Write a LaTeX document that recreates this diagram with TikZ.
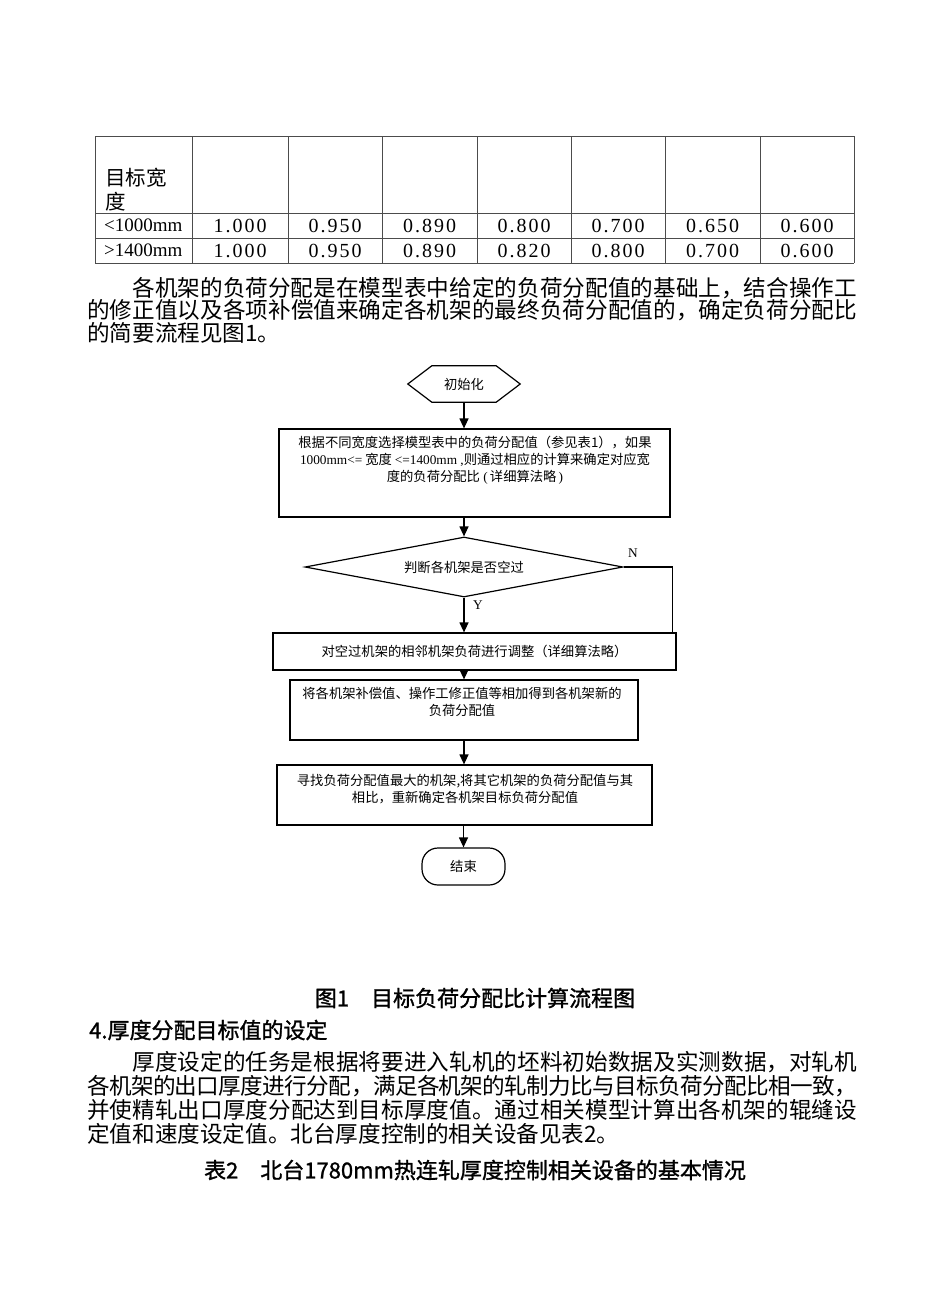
\documentclass[tikz,border=0pt]{standalone}
\usepackage{fontspec}
\setmainfont{Noto Sans CJK SC}
\newfontfamily\tms{Liberation Serif}
\newfontfamily\tnum[LetterSpace=10]{Liberation Serif}
\newfontfamily\hei[FakeBold=1.2]{Noto Sans CJK SC}
\usepackage{tikz}
\usetikzlibrary{calc,positioning,shapes.geometric,arrows.meta}
\XeTeXlinebreaklocale "zh"
\XeTeXlinebreakskip=0pt plus 3pt minus 1.5pt
\newcommand\jline[1]{\parbox{770pt}{\parindent=0pt\parfillskip=0pt #1\par}}

\begin{document}
\begin{tikzpicture}[x=1pt, y=-1pt,
    tline/.style={draw=black!70, line width=1pt},
    body/.style={anchor=west, inner sep=0pt, font=\fontsize{22.6pt}{23pt}\selectfont},
    cell/.style={inner sep=0pt, font=\tnum\fontsize{20pt}{22pt}\selectfont},
    box/.style={draw, line width=1.2pt, inner sep=0pt},
    ftxt/.style={inner sep=0pt, align=center, font=\fontsize{13.3pt}{17pt}\selectfont},
    lbl/.style={inner sep=0pt, font=\tms\fontsize{13.3pt}{15pt}\selectfont},
    arr/.style={line width=1.2pt, ->, >={Triangle[length=10pt,width=9pt]}},
    captxt/.style={inner sep=0pt, font=\hei\fontsize{22pt}{24pt}\selectfont}]

    \useasboundingbox (0,0) rectangle (950,1290);

    % table 1 (tail)
    \foreach \x in {95,192,288,382,477,571,665,760,854}
        \draw[tline] (\x,136) -- (\x,263);
    \foreach \y in {136,213,238,263}
        \draw[tline] (95,\y) -- (854,\y);

    \node[anchor=west, inner sep=0pt, font=\fontsize{20.5pt}{22pt}\selectfont] (hd1) at (105,178) {目标宽};
    \node[anchor=west, inner sep=0pt, font=\fontsize{20.5pt}{22pt}\selectfont] (hd2) at (105,202) {度};
    \node[anchor=west, inner sep=0pt, font=\tms\fontsize{19pt}{22pt}\selectfont] (r1) at (104,225.5) {<1000mm};
    \node[anchor=west, inner sep=0pt, font=\tms\fontsize{19pt}{22pt}\selectfont] (r2) at (104,250.5) {>1400mm};

    \foreach \c/\v in {240/1.000, 335/0.950, 429.5/0.890, 524/0.800, 618/0.700, 712.5/0.650, 807/0.600}
        \node[cell] at (\c,225.5) {\v};
    \foreach \c/\v in {240/1.000, 335/0.950, 429.5/0.890, 524/0.820, 618/0.800, 712.5/0.700, 807/0.600}
        \node[cell] at (\c,250.5) {\v};

    % paragraph
    \node[body] (p1a) at (87,288) {\jline{\hspace*{2em}各机架的负荷分配是在模型表中给定的负荷分配值的基础上，结合操作工}};
    \node[body] (p1b) at (87,310.5) {\jline{的修正值以及各项补偿值来确定各机架的最终负荷分配值的，确定负荷分配比}};
    \node[body] (p1c) at (87,333) {的简要流程见图1。};

    % flow chart
    \node[ftxt, minimum width=112pt, minimum height=36pt] (init) at (464,384) {初始化};
    \draw[line width=1.2pt] (init.west) -- ($(init.north west)+(24,0)$) -- ($(init.north east)+(-24,0)$)
        -- (init.east) -- ($(init.south east)+(-24,0)$) -- ($(init.south west)+(24,0)$) -- cycle;

    \node[box, minimum width=391pt, minimum height=88pt] (b1) at (474.5,473) {};
    \node[ftxt] (t1) at (475,460) {根据不同宽度选择模型表中的负荷分配值（参见表1），如果\\
        {\tms 1000mm<=} 宽度 {\tms <=1400mm ,}则通过相应的计算来确定对应宽\\
        度的负荷分配比{\tms\ (\,}详细算法略{\tms\,)}};

    \node[box, diamond, aspect=5.3, minimum width=318pt, minimum height=60pt, ftxt] (chk) at (464,567) {判断各机架是否空过};

    \node[box, minimum width=403pt, minimum height=37pt, ftxt] (b2) at (474.5,651.5) {对空过机架的相邻机架负荷进行调整（详细算法略）};

    \node[box, minimum width=348pt, minimum height=60pt] (b3) at (464,710) {};
    \node[ftxt] (t3) at (462,702) {将各机架补偿值、操作工修正值等相加得到各机架新的\\负荷分配值};

    \node[box, minimum width=375pt, minimum height=60pt] (b4) at (464.5,795) {};
    \node[ftxt] (t4) at (465,789) {寻找负荷分配值最大的机架,将其它机架的负荷分配值与其\\相比，重新确定各机架目标负荷分配值};

    \node[box, rounded corners=16pt, minimum width=83pt, minimum height=37pt, ftxt] (fin) at (463.5,866.5) {结束};

    \draw[arr] (init.south) -- (init.south |- b1.north);
    \draw[arr] (chk.north |- b1.south) -- (chk.north);
    \draw[arr] (chk.south) -- (chk.south |- b2.north);
    \draw[line width=1.2pt] (chk.east) -| ($(b2.north east)+(-4,0)$);
    \draw[arr] (b3.north |- b2.south) -- (b3.north);
    \draw[arr] (b3.south) -- (b3.south |- b4.north);
    \draw[arr] (fin.north |- b4.south) -- (fin.north);

    \node[lbl] (ylab) at (478,605) {Y};
    \node[lbl] (nlab) at (633,553) {N};

    % caption and text below
    \node[captxt] (cap1) at (475,998) {图1\quad 目标负荷分配比计算流程图};
    \node[captxt, anchor=west] (sec4) at (89,1030) {4.厚度分配目标值的设定};

    \node[body] (p2a) at (87,1062) {\jline{\hspace*{2em}厚度设定的任务是根据将要进入轧机的坯料初始数据及实测数据，对轧机}};
    \node[body] (p2b) at (87,1086) {\jline{各机架的出口厚度进行分配，满足各机架的轧制力比与目标负荷分配比相一致，}};
    \node[body] (p2c) at (87,1110) {\jline{并使精轧出口厚度分配达到目标厚度值。通过相关模型计算出各机架的辊缝设}};
    \node[body] (p2d) at (87,1134) {定值和速度设定值。北台厚度控制的相关设备见表2。};

    \node[captxt] (cap2) at (475,1170) {表2\quad 北台1780mm热连轧厚度控制相关设备的基本情况};

\end{tikzpicture}
\end{document}
